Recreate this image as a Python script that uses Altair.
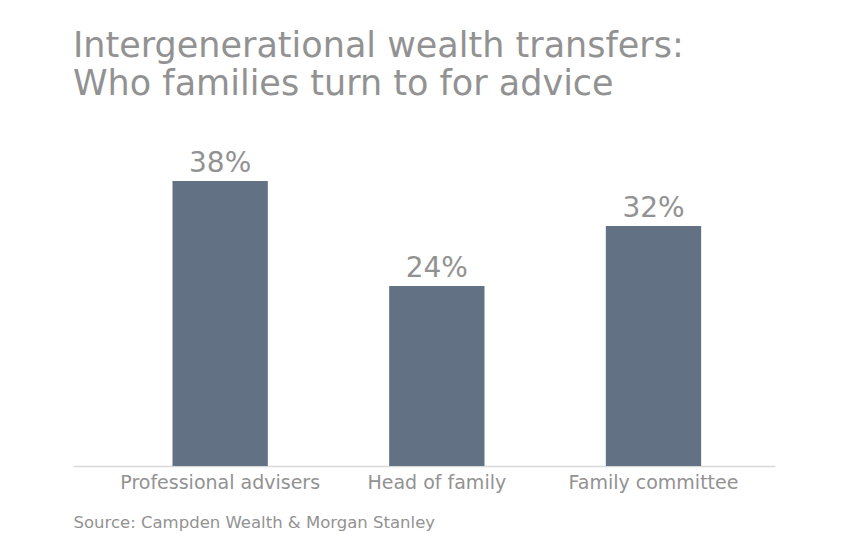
import altair as alt
import pandas as pd

categories = ["Professional advisers", "Head of family", "Family committee"]
values = [38, 24, 32]
labels = ["38%", "24%", "32%"]

df = pd.DataFrame({"category": categories, "value": values, "label": labels})

FONT = "DejaVu Sans"
GRAY = "#929292"

x = alt.X("category:N", sort=categories,
          scale=alt.Scale(paddingInner=0.56, paddingOuter=0.4, align=0.574),
          axis=alt.Axis(title="Source: Campden Wealth & Morgan Stanley",
                        titleAnchor="start", titleAlign="left", titleFont=FONT,
                        titleFontSize=16.5, titleFontWeight="normal", titleColor=GRAY,
                        titlePadding=22, labelAngle=0, labelFont=FONT, labelFontSize=19,
                        labelColor=GRAY, labelPadding=7, labelLimit=0, ticks=False,
                        domainColor="#d9d9d9", domainWidth=1.5))
y = alt.Y("value:Q", scale=alt.Scale(domain=[0, 40]), axis=None)

bars = alt.Chart(df).mark_bar(color="#627284").encode(x=x, y=y)
text = alt.Chart(df).mark_text(baseline="bottom", dy=-3, font=FONT, fontSize=28,
                               color=GRAY).encode(x=x, y=y, text="label:N")

chart = (bars + text).properties(
    width=702, height=300,
    title=alt.TitleParams(text=["Intergenerational wealth transfers:",
                                "Who families turn to for advice"],
                          anchor="start", font=FONT, fontSize=35,
                          fontWeight="normal", color=GRAY, lineHeight=38,
                          offset=48),
    autosize=alt.AutoSizeParams(type="none"),
    padding={"left": 65, "top": 158, "right": 60, "bottom": 70},
).configure_view(stroke=None)

chart.save("out.html", embed_options={"renderer": "svg", "actions": False})
